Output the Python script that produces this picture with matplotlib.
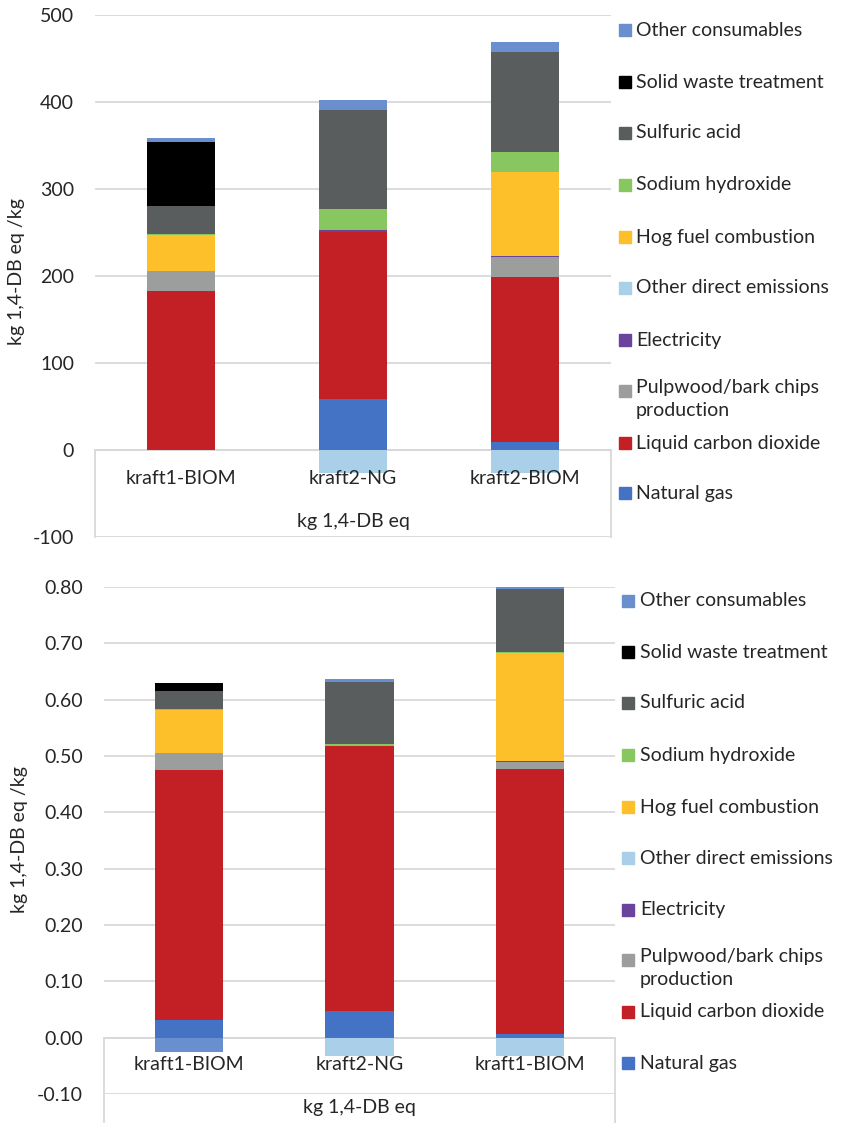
import matplotlib.pyplot as plt
import numpy as np
from matplotlib.patches import Rectangle

plt.rcParams['font.family'] = ['Lato', 'DejaVu Sans']

# series in stacking order (bottom -> top); legend lists them reversed
series_names = ['Natural gas', 'Liquid carbon dioxide', 'Pulpwood/bark chips\nproduction',
                'Electricity', 'Other direct emissions', 'Hog fuel combustion',
                'Sodium hydroxide', 'Sulfuric acid', 'Solid waste treatment',
                'Other consumables']
series_colors = ['#4472C4', '#C32026', '#9C9E9E', '#6A439C', '#AACFE8', '#FDBF2A',
                 '#88C660', '#5A5D5E', '#000000', '#6A8FCF']

# top chart
top_categories = ['kraft1-BIOM', 'kraft2-NG', 'kraft2-BIOM']
top_natural_gas = [0, 59, 9]
top_liquid_co2 = [183, 192, 190]
top_pulpwood = [23, 0, 22.5]
top_electricity = [0, 2, 2]
top_other_direct = [0, -27, -27]
top_hog_fuel = [41, 0, 96]
top_sodium_hydroxide = [1, 23.5, 23]
top_sulfuric_acid = [32.5, 114, 115]
top_solid_waste = [73.5, 0, 0]
top_other_consumables = [4.5, 12, 11]

# bottom chart
bot_categories = ['kraft1-BIOM', 'kraft2-NG', 'kraft1-BIOM']
bot_natural_gas = [0.031, 0.0475, 0.006]
bot_liquid_co2 = [0.445, 0.470, 0.471]
bot_pulpwood = [0.029, 0, 0.012]
bot_electricity = [0, 0, 0.002]
bot_other_direct = [0, -0.033, -0.033]
bot_hog_fuel = [0.0775, 0, 0.192]
bot_sodium_hydroxide = [0.0015, 0.0045, 0.002]
bot_sulfuric_acid = [0.031, 0.110, 0.111]
bot_solid_waste = [0.014, 0, 0]
bot_other_consumables = [-0.025, 0.005, 0.004]

top_series = [top_natural_gas, top_liquid_co2, top_pulpwood, top_electricity, top_other_direct,
              top_hog_fuel, top_sodium_hydroxide, top_sulfuric_acid, top_solid_waste,
              top_other_consumables]
bot_series = [bot_natural_gas, bot_liquid_co2, bot_pulpwood, bot_electricity, bot_other_direct,
              bot_hog_fuel, bot_sodium_hydroxide, bot_sulfuric_acid, bot_solid_waste,
              bot_other_consumables]

W, H = 841, 1123
fig = plt.figure(figsize=(W / 100, H / 100), dpi=100)
grid_c = '#D9D9D9'
fs = 14


def fx(px):
    return px / W


def fy(py):
    return 1 - py / H


def draw(ax, cats, data, ymin, ymax, step, fmt, box_bottom, cat_off, group_off):
    x = np.arange(len(cats))
    pos = np.zeros(len(cats))
    neg = np.zeros(len(cats))
    for vals, c in zip(data, series_colors):
        v = np.array(vals, dtype=float)
        base = np.where(v >= 0, pos, neg)
        ax.bar(x, v, 0.4, bottom=base, color=c, linewidth=0, zorder=3)
        pos = pos + np.where(v >= 0, v, 0)
        neg = neg + np.where(v < 0, v, 0)
    ax.set_xlim(-0.5, 2.5)
    ax.set_ylim(ymin, ymax)
    ticks = np.arange(ymin, ymax + step / 2, step)
    ax.set_yticks(ticks)
    ax.set_yticklabels([fmt.format(t) for t in ticks], fontsize=fs, color='#262626')
    ax.yaxis.grid(True, color=grid_c, linewidth=1.3, zorder=0)
    ax.set_axisbelow(True)
    ax.set_xticks([])
    ax.tick_params(axis='y', length=0, pad=15)
    for s in ax.spines.values():
        s.set_visible(False)
    # category box
    y0 = (0 - ymin) / (ymax - ymin)
    ax.plot([0, 1], [y0, y0], transform=ax.transAxes, color=grid_c, lw=1.3, zorder=1, clip_on=False)
    for xa in (0, 1):
        ax.plot([xa, xa], [y0, box_bottom], transform=ax.transAxes, color=grid_c, lw=1.3,
                zorder=1, clip_on=False)
    for i, c in enumerate(cats):
        ax.annotate(c, (i, 0), xytext=(0, -cat_off), textcoords='offset pixels',
                    ha='center', va='center', fontsize=fs, color='#262626')
    ax.annotate('kg 1,4-DB eq', (1, 0), xytext=(0, -group_off), textcoords='offset pixels',
                ha='center', va='center', fontsize=fs, color='#262626')


ax1 = fig.add_axes([fx(95), fy(537), fx(611 - 95), (537 - 15) / H])
draw(ax1, top_categories, top_series, -100, 500, 100, '{:.0f}', 0, 29, 71)

ax2 = fig.add_axes([fx(104), fy(1094), fx(615 - 104), (1094 - 587) / H])
draw(ax2, bot_categories, bot_series, -0.1, 0.8, 0.1, '{:.2f}', -0.1, 27, 70)

fig.text(fx(17), fy(272), 'kg 1,4-DB eq /kg', rotation=90, ha='center', va='center',
         fontsize=fs, color='#262626')
fig.text(fx(20), fy(840), 'kg 1,4-DB eq /kg', rotation=90, ha='center', va='center',
         fontsize=fs, color='#262626')

# legends (Excel style, reversed series order, fixed slots)
top_leg_y = [30, 82, 133, 185, 237, 288, 340, 391, 443, 493]
bot_leg_y = [601, 652, 703, 755, 807, 858, 910, 960, 1012, 1063]
for leg_y, mx, tx in ((top_leg_y, 619, 636), (bot_leg_y, 622, 640)):
    for yy, name, col in zip(leg_y, series_names[::-1], series_colors[::-1]):
        fig.patches.append(Rectangle((fx(mx), fy(yy + 6)), 12 / W, 12 / H, color=col,
                                     transform=fig.transFigure, figure=fig))
        if '\n' in name:
            fig.text(fx(tx), fy(yy - 12), name, ha='left', va='top',
                     fontsize=fs, color='#262626', linespacing=1.45)
        else:
            fig.text(fx(tx), fy(yy), name, ha='left', va='center',
                     fontsize=fs, color='#262626')

fig.savefig('out.png', dpi=100)
